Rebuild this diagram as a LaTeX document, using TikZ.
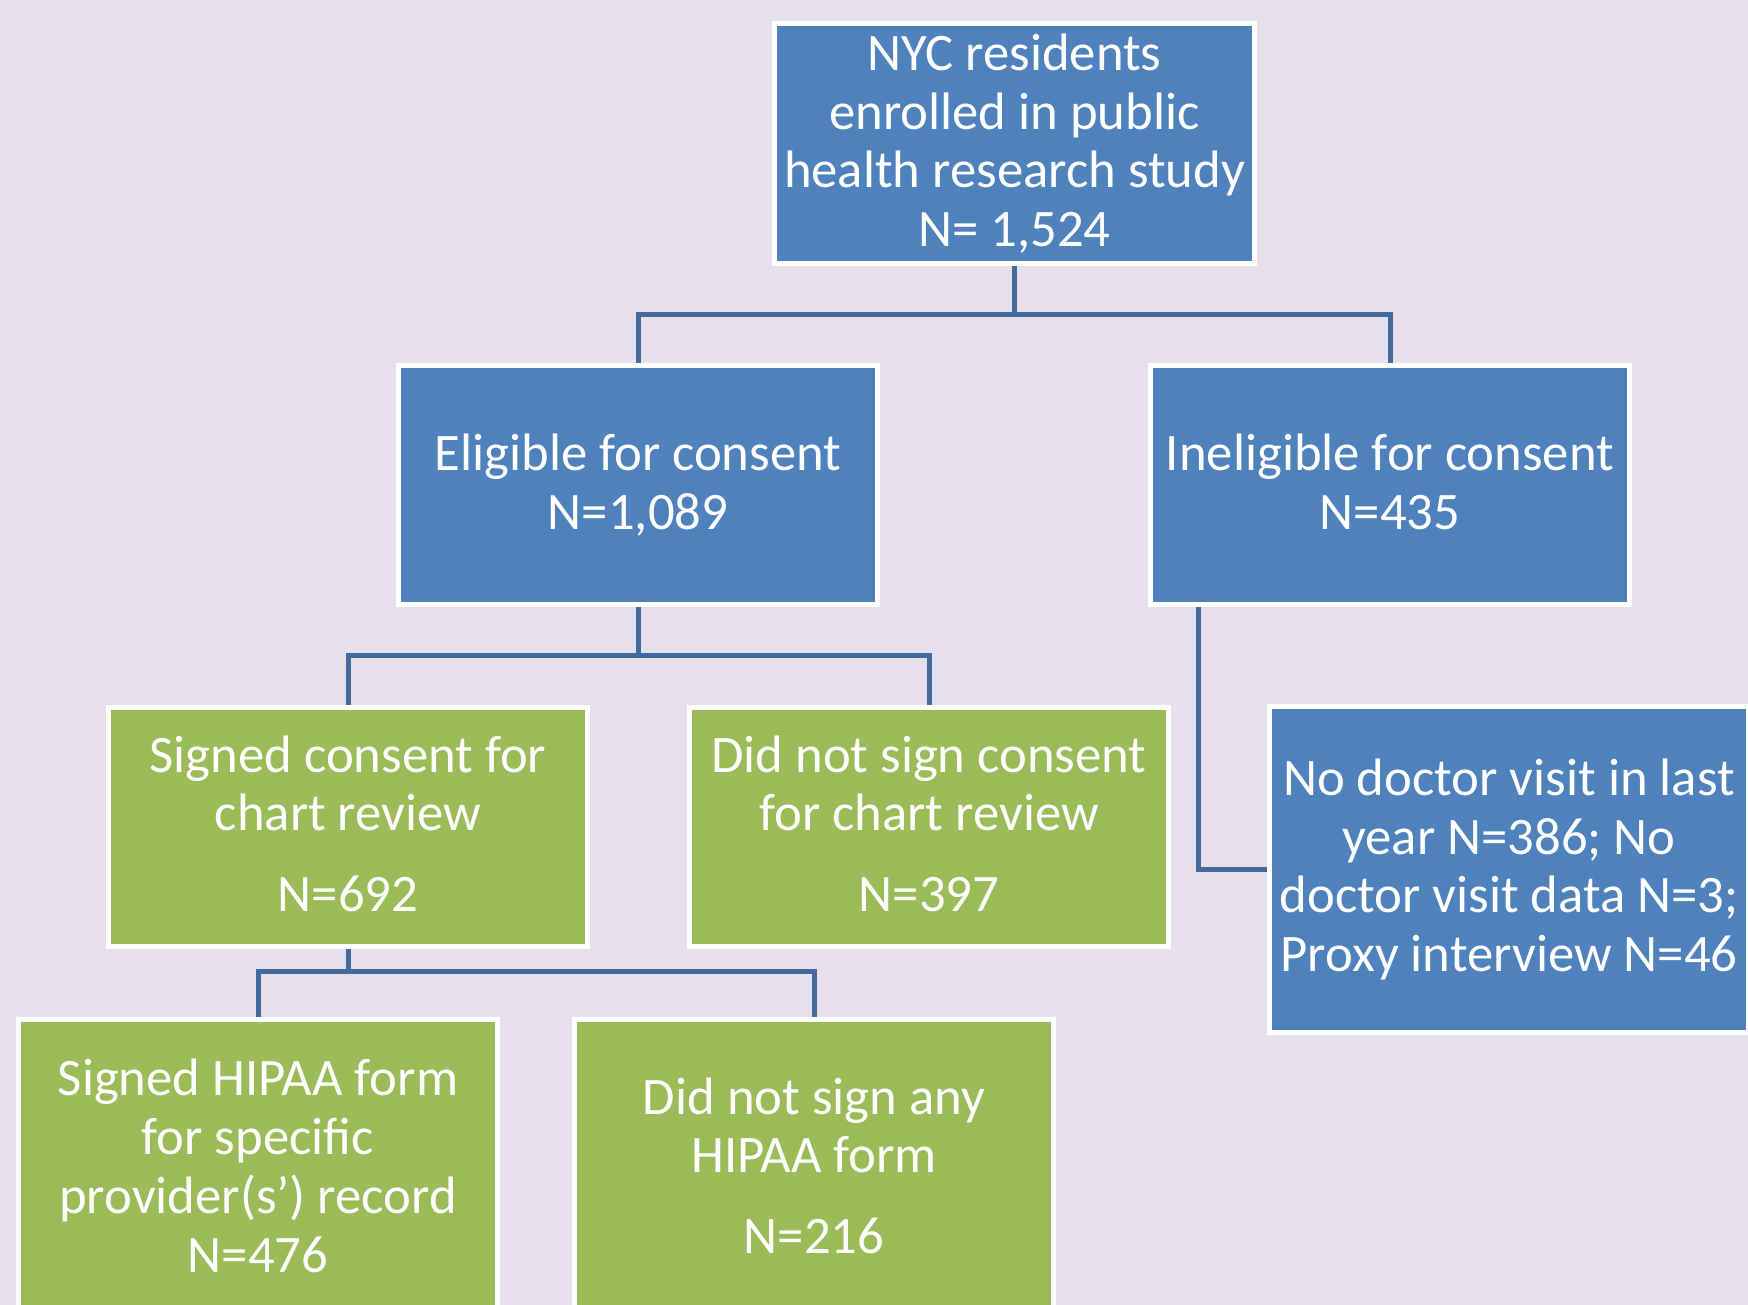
\documentclass[tikz,border=0pt]{standalone}
\usepackage{fontspec}
\setmainfont{Carlito}
\definecolor{bgpurple}{HTML}{E6E0EC}
\definecolor{boxblue}{HTML}{4F81BD}
\definecolor{boxgreen}{HTML}{9BBB59}
\definecolor{linkblue}{HTML}{43699D}

\begin{document}
\begin{tikzpicture}[x=0.02cm, y=-0.02cm,
    every node/.style={font=\fontsize{30}{33.4}\selectfont, text=white},
    box/.style={rectangle, draw=white, line width=0.1cm, minimum width=9.6cm, minimum height=4.8cm, align=center, inner sep=0pt,
        execute at begin node=\rule{0pt}{30.5pt}, execute at end node=\rule[-3.8pt]{0pt}{1pt}},
    bluebox/.style={box, fill=boxblue},
    greenbox/.style={box, fill=boxgreen},
    link/.style={draw=linkblue, line width=0.1cm},
]
\fill[bgpurple] (0,0) rectangle (1748,1305);
\useasboundingbox (0,0) rectangle (1748,1305);
\clip (0,0) rectangle (1748,1305);

\node[bluebox] (study) at (1014.5,143.5) {NYC residents\\enrolled in public\\health research study\\N= 1,524};
\node[bluebox] (elig) at (638,485) {Eligible for consent\\N=1,089};
\node[bluebox] (inelig) at (1390,485) {Ineligible for consent\\N=435};
\node[greenbox] (signed) at (348,827) {Signed consent for\\chart review\\[12.5pt]N=692};
\node[greenbox] (notsigned) at (929,827) {Did not sign consent\\for chart review\\[12.5pt]N=397};
\node[bluebox, minimum height=6.52cm] (nodoc) at (1509,869.5) {No doctor visit in last\\year N=386; No\\doctor visit data N=3;\\Proxy interview N=46};
\node[greenbox, minimum height=6cm] (hipaa) at (258,1169) {Signed HIPAA form\\for specific\\provider(s’) record\\N=476};
\node[greenbox, minimum height=6cm] (nohipaa) at (814,1169) {Did not sign any\\HIPAA form\\[12.5pt]N=216};

% branch points
\coordinate (j1) at (1014.5,314);
\coordinate (j2) at (638,655);
\coordinate (j3) at (348,971);
\coordinate (j4) at (1198,869.5);

\draw[link] (study.south) -- (j1);
\draw[link] (j1) -| (elig.north);
\draw[link] (j1) -| (inelig.north);
\draw[link] (elig.south) -- (j2);
\draw[link] (j2) -| (signed.north);
\draw[link] (j2) -| (notsigned.north);
\draw[link] (signed.south) -- (j3);
\draw[link] (j3) -| (hipaa.north);
\draw[link] (j3) -| (nohipaa.north);
\draw[link] (inelig.south -| j4) |- (nodoc.west);

\end{tikzpicture}
\end{document}
